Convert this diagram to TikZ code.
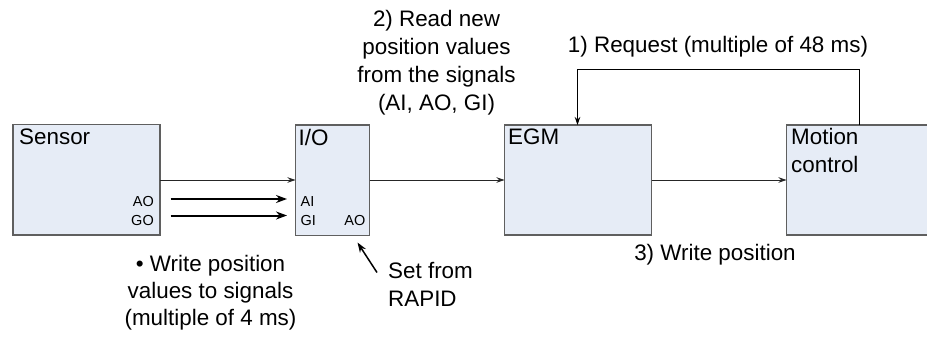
\documentclass[tikz,border=0pt]{standalone}
\usepackage{fontspec}
\setmainfont{Liberation Sans}
\usetikzlibrary{arrows.meta}
\definecolor{boxfill}{RGB}{230,236,246}
\definecolor{boxline}{RGB}{95,95,95}
\begin{document}
\begin{tikzpicture}[x=1pt,y=-1pt,
  blk/.style={draw=boxline,line width=1.1pt,fill=boxfill},
  lbl/.style={inner sep=0pt,font=\fontsize{22.4}{27.7}\selectfont},
  sml/.style={inner sep=0pt,font=\fontsize{14.5}{16}\selectfont},
  thin/.style={draw=black!85,line width=0.9pt,-{Stealth[length=8pt,width=5.5pt]}},
  thick/.style={draw=black,line width=2pt,-{Stealth[length=11pt,width=8pt]}}]
\useasboundingbox (0,0) rectangle (927,337);
\begin{scope}
\clip (0,0) rectangle (927,337);
% blocks
\path[blk] (13,124.5) rectangle (160,235);
\node[inner sep=0pt] (sensor) at (86.5,180) {};
\path[blk] (295.5,125) rectangle (369.5,235.5);
\node[inner sep=0pt] (io) at (332.5,180) {};
\path[blk] (504.5,125) rectangle (651.5,235);
\node[inner sep=0pt] (egm) at (578,180) {};
\path[blk] (786.5,125) rectangle (935,235);
\node[inner sep=0pt] (mc) at (860,180) {};
\end{scope}
% block labels
\node[lbl,anchor=base west] (tSensor) at (19,144) {Sensor};
\node[lbl,anchor=base west] (tIO) at (298.5,145) {I/O};
\node[lbl,anchor=base west] (tEGM) at (508,144) {EGM};
\node[lbl,anchor=base west] (tMC1) at (791,144) {Motion};
\node[lbl,anchor=base west] (tMC2) at (791,172) {control};
% small port labels
\node[sml,anchor=base east] (sAO) at (154,206.5) {AO};
\node[sml,anchor=base east] (sGO) at (154,225) {GO};
\node[sml,anchor=base west] (iAI) at (300.5,206.5) {AI};
\node[sml,anchor=base west] (iGI) at (300.5,225) {GI};
\node[sml,anchor=base east] (iAO) at (365.5,225) {AO};
% coordinates for connectors
\coordinate (s1) at (160,180);
\coordinate (i1) at (295.5,180);
\coordinate (i2) at (369.5,180);
\coordinate (e1) at (504.5,180);
\coordinate (e2) at (651.5,180);
\coordinate (m1) at (786.5,180);
\coordinate (aoS) at (170.5,199);
\coordinate (aoE) at (287,199);
\coordinate (goS) at (170.5,215.5);
\coordinate (goE) at (287,215.5);
\coordinate (mTop) at (859.5,125);
\coordinate (eTop) at (577.5,125);
\coordinate (rapS) at (377,272.5);
\coordinate (rapE) at (357.5,242.5);
% connectors
\draw[thin] (s1) -- (i1);
\draw[thin] (i2) -- (e1);
\draw[thin] (e2) -- (m1);
\draw[thick] (aoS) -- (aoE);
\draw[thick] (goS) -- (goE);
\draw[thin,draw=black] (mTop) -- (mTop |- 0,69.5) -- (eTop |- 0,69.5) -- (eTop);
\draw[black,line width=1.5pt,-{Stealth[length=10pt,width=7pt]}] (rapS) -- (rapE);
% annotations
\node[lbl,anchor=base] (t2a) at (436.5,27) {2) Read new};
\node[lbl,anchor=base] (t2b) at (436.5,54.7) {position values};
\node[lbl,anchor=base] (t2c) at (436.5,82.4) {from the signals};
\node[lbl,anchor=base] (t2d) at (436.5,110.1) {(AI, AO, GI)};
\node[lbl,anchor=base] (t1) at (718,53) {1) Request (multiple of 48 ms)};
\node[lbl,anchor=base] (t3) at (715,260.5) {3) Write position};
\node[lbl,anchor=base] (w1) at (210.5,271.5) {• Write position};
\node[lbl,anchor=base] (w2) at (210.5,298.5) {values to signals};
\node[lbl,anchor=base] (w3) at (210.5,325.5) {(multiple of 4 ms)};
\node[lbl,anchor=base west] (r1) at (388,278.5) {Set from};
\node[lbl,anchor=base west] (r2) at (388,306.5) {RAPID};
\end{tikzpicture}
\end{document}
